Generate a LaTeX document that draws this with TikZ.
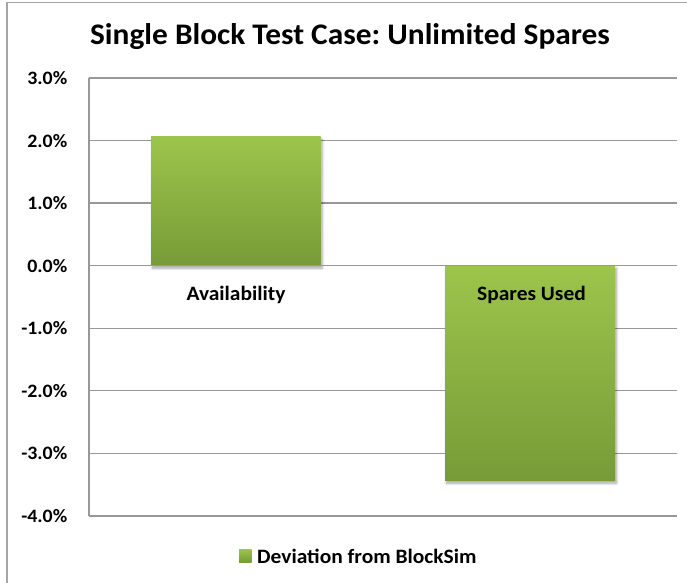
\documentclass[tikz,border=0pt]{standalone}
\usepackage{fontspec}
\setmainfont[FakeStretch=1.05]{Carlito}
\frenchspacing
\usetikzlibrary{shadows.blur}
\definecolor{gridgray}{HTML}{989898}
\definecolor{framegray}{HTML}{A6A6A6}
\definecolor{bartop}{HTML}{9CC54B}
\definecolor{barbot}{HTML}{779B37}
\tikzset{
  grid line/.style={draw=gridgray, line width=1.3bp},
  tick label/.style={anchor=east, font=\bfseries\fontsize{19}{22}\selectfont, inner sep=0pt},
  cat label/.style={anchor=base, font=\bfseries\fontsize{20.5}{24}\selectfont, inner sep=0pt},
  bar/.style={top color=bartop, bottom color=barbot, draw=none,
    blur shadow={shadow xshift=1.5bp, shadow yshift=-2.5bp, shadow blur steps=6, shadow blur radius=2.5bp, shadow opacity=35}},
}
\begin{document}
\begin{tikzpicture}[x=1bp, y=-1bp]
  \useasboundingbox (0,0) rectangle (687,583);
  % chart frame (top and left edges)
  \draw[framegray, line width=1.2bp] (7,583) -- (7,2.5) -- (687,2.5);
  % title
  \node[anchor=base, inner sep=0pt, font=\bfseries\fontsize{30}{34}\selectfont] (title) at (350,44.5) {Single Block Test Case: Unlimited Spares};
  % horizontal grid lines and value labels
  \foreach \v/\lab [count=\i] in {3/3.0\%, 2/2.0\%, 1/1.0\%, 0/0.0\%, -1/-1.0\%, -2/-2.0\%, -3/-3.0\%, -4/-4.0\%} {
    \pgfmathsetmacro{\yy}{265.7-62.57*\v}
    \draw[grid line] (89,\yy) -- (677,\yy);
    \node[tick label] (tick\i) at (67.5,\yy) {\lab};
  }
  % vertical axis
  \draw[grid line] (89,78) -- (89,516.3);
  % bars
  \path[bar] (151,136.7) rectangle (320.7,265.7);
  \path[bar] (445,265.7) rectangle (615,480.7);
  \draw[grid line] (89,265.7) -- (677,265.7);
  % category labels
  \node[cat label] (avail) at (236,300.5) {Availability};
  \node[cat label] (spares) at (531.5,300.5) {Spares Used};
  % legend
  \path[top color=bartop, bottom color=barbot] (239,549) rectangle (251.7,562);
  \node[anchor=base west, inner sep=0pt, font=\bfseries\fontsize{20.5}{24}\selectfont] (legend) at (257,563) {Deviation from BlockSim};
\end{tikzpicture}
\end{document}
